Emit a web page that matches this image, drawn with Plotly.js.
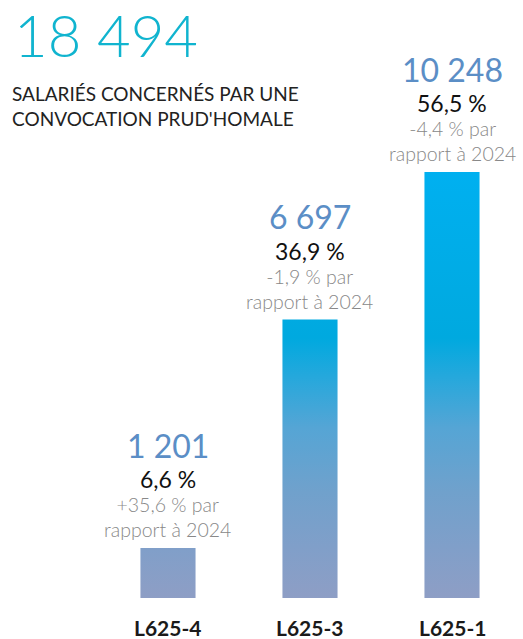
<!DOCTYPE html>
<html>
<head>
<meta charset="utf-8">
<script src="https://cdn.plot.ly/plotly-3.0.1.min.js"></script>
<style>html,body{margin:0;padding:0;background:#fff;}#chart{width:523px;height:639px;}</style>
</head>
<body>
<div id="chart"></div>
<script>
// ---- data ----
const categories = ['L625-4', 'L625-3', 'L625-1'];
const values = [1201, 6697, 10248];
const valueLabels = ['1 201', '6 697', '10 248'];
const shareLabels = ['6,6 %', '36,9 %', '56,5 %'];
const changeLabels = ['+35,6 % par<br>rapport à 2024', '-1,9 % par<br>rapport à 2024', '-4,4 % par<br>rapport à 2024'];
const totalLabel = '18 494';
const subtitleLabel = 'SALARIÉS CONCERNÉS PAR UNE<br>CONVOCATION PRUD\'HOMALE';

// ---- styling ----
const FONT = 'Lato, "Open Sans", sans-serif';
const halfWidth = 0.194;
const gradientScale = [
  [0, '#8e9ec5'], [0.12, '#809fc9'], [0.25, '#70a1cc'], [0.4, '#55a5d5'],
  [0.52, '#25a8dc'], [0.61, '#00a9df'], [1, '#00b0f0']
];
const gradTop = Math.max(...values);

const traces = categories.map((c, i) => ({
  type: 'scatter',
  mode: 'lines',
  x: [i - halfWidth, i + halfWidth, i + halfWidth, i - halfWidth, i - halfWidth],
  y: [0, 0, values[i], values[i], 0],
  fill: 'toself',
  fillgradient: { type: 'vertical', colorscale: gradientScale, start: 0, stop: gradTop },
  line: { width: 0, color: 'rgba(0,0,0,0)' },
  hoverinfo: 'skip',
  showlegend: false,
  name: c
}));

const annotations = [];
categories.forEach((c, i) => {
  annotations.push({
    x: i, y: values[i], xref: 'x', yref: 'y', text: valueLabels[i], showarrow: false,
    yanchor: 'middle', xanchor: 'center', yshift: 103,
    font: { family: FONT, size: 32, color: '#5b8ec6', weight: 400 }
  });
  annotations.push({
    x: i, y: values[i], xref: 'x', yref: 'y', text: shareLabels[i], showarrow: false,
    yanchor: 'middle', xanchor: 'center', yshift: 69,
    font: { family: FONT, size: 23, color: '#111111' }
  });
  annotations.push({
    x: i, y: values[i], xref: 'x', yref: 'y', text: changeLabels[i], showarrow: false,
    yanchor: 'middle', xanchor: 'center', yshift: 31,
    font: { family: FONT, size: 19.5, color: '#888888', weight: 300 }
  });
  annotations.push({
    x: i, y: 0, xref: 'x', yref: 'y', text: '<b>' + c + '</b>', showarrow: false,
    yanchor: 'middle', xanchor: 'center', yshift: -29,
    font: { family: FONT, size: 21, color: '#1a1a1a' }
  });
});
annotations.push({
  x: 12 / 523, y: 1.0, xref: 'paper', yref: 'paper', text: totalLabel, showarrow: false,
  xanchor: 'left', yanchor: 'top', yshift: 2,
  font: { family: FONT, size: 58, color: '#10b4cf', weight: 300 }
});
annotations.push({
  x: 10 / 523, y: 1.0, xref: 'paper', yref: 'paper', text: subtitleLabel, showarrow: false,
  xanchor: 'left', yanchor: 'top', yshift: -80, align: 'left',
  font: { family: FONT, size: 19, color: '#222222' }
});

const layout = {
  width: 523, height: 639,
  margin: { l: 0, r: 0, t: 0, b: 41 },
  paper_bgcolor: '#ffffff', plot_bgcolor: '#ffffff',
  xaxis: { range: [-1.183, 2.5], visible: false, fixedrange: true },
  yaxis: { range: [0, 14386], visible: false, fixedrange: true },
  showlegend: false,
  annotations: annotations
};

Plotly.newPlot('chart', traces, layout, { displayModeBar: false, staticPlot: true });
</script>
</body>
</html>
